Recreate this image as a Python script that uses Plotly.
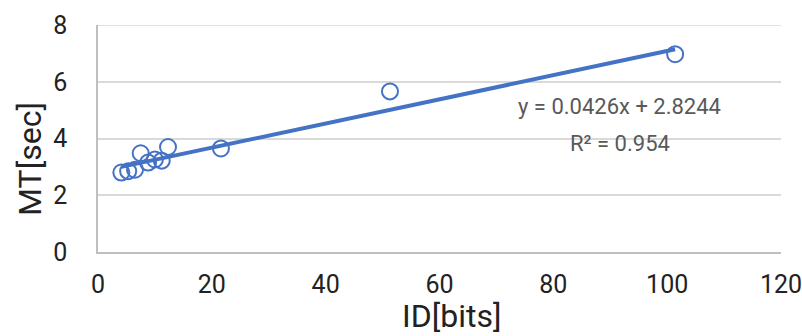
import plotly.graph_objects as go

# Data
id_bits = [4.1, 5.3, 6.5, 7.5, 8.8, 10.0, 11.2, 12.3, 21.6, 51.3, 101.4]
mt_sec = [2.80, 2.85, 2.90, 3.48, 3.15, 3.26, 3.22, 3.70, 3.65, 5.66, 6.97]
slope = 0.0426
intercept = 2.8244
eq_text = "y = 0.0426x + 2.8244"
r2_text = "R² = 0.954"
x_ticks = [0, 20, 40, 60, 80, 100, 120]
y_ticks = [0, 2, 4, 6, 8]

blue = "#4472C4"
tick_font = dict(family="Roboto, sans-serif", size=25, color="#222222")
title_font = dict(family="Roboto, sans-serif", size=32, color="#222222")

trend_x = [min(id_bits), max(id_bits)]
trend_y = [slope * v + intercept for v in trend_x]

fig = go.Figure()
fig.add_trace(go.Scatter(x=trend_x, y=trend_y, mode="lines",
                         line=dict(color=blue, width=4), hoverinfo="skip"))
fig.add_trace(go.Scatter(x=id_bits, y=mt_sec, mode="markers",
                         marker=dict(symbol="circle-open", size=16, color=blue,
                                     line=dict(width=2, color=blue))))

fig.update_layout(
    width=802, height=336,
    margin=dict(l=98, r=21, t=25, b=84, autoexpand=False),
    plot_bgcolor="white", paper_bgcolor="white",
    showlegend=False,
    xaxis=dict(range=[0, 120], tickvals=x_ticks, showgrid=False, zeroline=False,
               showline=True, linecolor="#BFBFBF", linewidth=1.5, automargin=False,
               tickfont=tick_font, ticklabelstandoff=9, ticklabeloverflow="allow"),
    yaxis=dict(range=[0, 8], tickvals=y_ticks, showgrid=True, gridcolor="#D9D9D9",
               gridwidth=1.5, zeroline=False, showline=True, linecolor="#BFBFBF",
               linewidth=1.5, tickfont=tick_font, ticklabelstandoff=24,
               ticklabeloverflow="allow", automargin=False),
    shapes=[dict(type="line", xref="paper", yref="y", x0=0, x1=1, y0=8, y1=8,
                 line=dict(color="#D9D9D9", width=1.5), layer="below")],
    annotations=[
        dict(text="MT[sec]", xref="paper", yref="paper", x=-0.0996, y=0.41,
             textangle=-90, showarrow=False, font=title_font,
             xanchor="center", yanchor="middle"),
        dict(text="ID[bits]", xref="paper", yref="paper", x=0.518, y=-0.282,
             showarrow=False, font=title_font, xanchor="center", yanchor="middle"),
        dict(text=eq_text, x=91.7, y=5.12, xref="x", yref="y", showarrow=False,
             font=dict(family="Roboto, sans-serif", size=22, color="#595959")),
        dict(text=r2_text, x=91.7, y=3.84, xref="x", yref="y", showarrow=False,
             font=dict(family="Roboto, sans-serif", size=22, color="#595959")),
    ],
)

fig.write_html("out.html")
